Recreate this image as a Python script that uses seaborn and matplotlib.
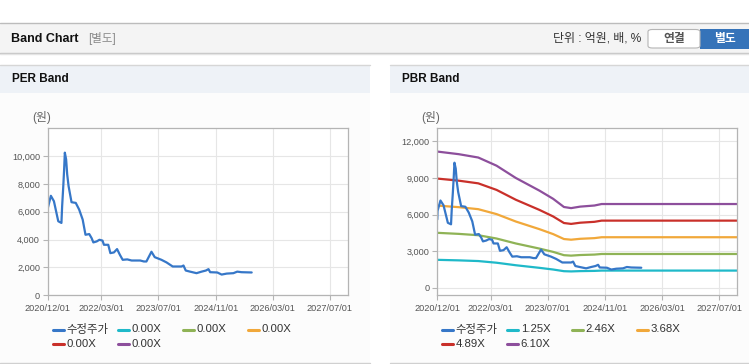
import matplotlib
matplotlib.use('Agg')
import matplotlib.pyplot as plt
import matplotlib.dates as mdates
from matplotlib.patches import Rectangle, FancyBboxPatch
from matplotlib.lines import Line2D
from matplotlib.ticker import FuncFormatter
import pandas as pd
import numpy as np
import seaborn as sns

# adjusted price (수정주가)
price_dates = ['2020-12-01', '2020-12-03', '2020-12-28', '2021-01-23', '2021-03-01', '2021-03-28',
               '2021-04-03', '2021-04-12', '2021-04-20', '2021-04-26', '2021-05-07', '2021-05-16',
               '2021-05-28', '2021-06-22', '2021-07-28', '2021-08-26', '2021-09-25', '2021-10-19',
               '2021-11-20', '2021-12-10', '2021-12-25', '2022-01-22', '2022-02-15', '2022-03-13',
               '2022-03-25', '2022-05-01', '2022-05-19', '2022-06-18', '2022-07-15', '2022-08-08',
               '2022-09-01', '2022-10-10', '2022-11-16', '2023-01-28', '2023-03-01', '2023-03-22',
               '2023-05-04', '2023-06-01', '2023-07-28', '2023-09-10', '2023-11-01', '2024-01-15',
               '2024-02-01', '2024-02-20', '2024-03-28', '2024-05-22', '2024-07-04', '2024-08-10',
               '2024-09-01', '2024-09-15', '2024-11-15', '2024-12-22', '2025-02-03', '2025-04-01',
               '2025-05-04', '2025-06-10', '2025-09-04']
price_values = [5600, 6300, 7150, 6760, 5320, 5200,
                6400, 7720, 9050, 10250, 9770, 8690,
                7840, 6690, 6640, 6160, 5440, 4350,
                4400, 4110, 3800, 3870, 3990, 3930,
                3630, 3630, 3030, 3080, 3320, 2910,
                2550, 2580, 2500, 2500, 2430, 2430,
                3130, 2740, 2550, 2360, 2070, 2070,
                2140, 1780, 1700, 1590, 1700, 1780,
                1880, 1660, 1640, 1490, 1560, 1590,
                1700, 1660, 1640]

# PBR band: BPS, times the band multiples
bps_dates = ['2020-12-01', '2021-06-01', '2021-11-15', '2022-04-20', '2022-10-01', '2023-04-20',
             '2023-08-15', '2023-11-15', '2024-01-15', '2024-04-01', '2024-08-01', '2024-10-01',
             '2027-12-01']
bps_values = [1830, 1795, 1750, 1640, 1475, 1305, 1195, 1085, 1070, 1090, 1105, 1125, 1125]
pbr_multiples = [1.25, 2.46, 3.68, 4.89, 6.10]
pbr_labels = ['1.25X', '2.46X', '3.68X', '4.89X', '6.10X']
per_labels = ['0.00X', '0.00X', '0.00X', '0.00X', '0.00X']

price_label = '수정주가'
band_colors = ['#1fb9c9', '#8fb356', '#f1a83a', '#c9302a', '#8d4f9c']
price_color = '#3677c8'

x_ticks = ['2020/12/01', '2022/03/01', '2023/07/01', '2024/11/01', '2026/03/01', '2027/07/01']
x_range = ['2020-12-01', '2027-12-01']

sns.set_theme(style='white')
plt.rcParams['font.family'] = ['Liberation Sans', 'Noto Sans CJK KR', 'DejaVu Sans']

W, H = 749, 364
fig = plt.figure(figsize=(W / 100, H / 100), dpi=100)
fig.patch.set_facecolor('white')


def fx(x):
    return x / W


def fy(y):
    return 1 - y / H


def rect(x0, y0, x1, y1, color, **kw):
    fig.add_artist(Rectangle((fx(x0), fy(y1)), fx(x1) - fx(x0), fy(y0) - fy(y1),
                             transform=fig.transFigure, facecolor=color, edgecolor='none',
                             zorder=-10, **kw))


def hline(x0, x1, y, color, lw=1.0):
    fig.add_artist(Line2D([fx(x0), fx(x1)], [fy(y), fy(y)], transform=fig.transFigure,
                          color=color, lw=lw, zorder=-5))


# top header bar
rect(0, 22.5, W, 52.5, '#f4f4f4')
hline(0, W, 22.5, '#bcbcbc')
hline(0, W, 52.5, '#c4c4c4')
hline(0, W, 53.5, '#e4e4e4')
fig.text(fx(11), fy(38.5), 'Band Chart', fontsize=9, fontweight='bold', color='#111111',
         va='center', ha='left')
fig.text(fx(88), fy(38.5), '[별도]', fontsize=8.3, color='#8a8a8a', va='center', ha='left')
fig.text(fx(553), fy(38.5), '단위 : 억원, 배, %', fontsize=8.6, color='#333333', va='center', ha='left')
fig.add_artist(FancyBboxPatch((fx(648), fy(48)), fx(700) - fx(648), fy(29.5) - fy(48),
                              boxstyle='round,pad=0,rounding_size=0.006', transform=fig.transFigure,
                              facecolor='white', edgecolor='#b5b5b5', lw=0.8, zorder=-4))
rect(700, 29, W, 48.5, '#3573b9')
fig.text(fx(674), fy(39), '연결', fontsize=8.5, fontweight='bold', color='#555555', va='center', ha='center')
fig.text(fx(724.5), fy(39), '별도', fontsize=8.5, fontweight='bold', color='white', va='center', ha='center')

# panel frames
panels = [(0, 370, 'PER Band'), (390, W, 'PBR Band')]
for x0, x1, title in panels:
    rect(x0, 92.7, x1, 363, '#fcfcfc')
    rect(x0, 64.7, x1, 92.7, '#eef2f7')
    hline(x0, x1, 64.7, '#d6d6d6')
    hline(x0, x1, 363.3, '#d0d0d0')
    fig.text(fx(x0 + 12), fy(79.5), title, fontsize=8.5, fontweight='bold', color='#111111',
             va='center', ha='left')

price_df = pd.DataFrame({'date': pd.to_datetime(price_dates), 'value': price_values})

band_rows = []
for lab, m in zip(pbr_labels, pbr_multiples):
    for d, b in zip(bps_dates, bps_values):
        band_rows.append({'date': pd.to_datetime(d), 'value': b * m, 'band': lab})
band_df = pd.DataFrame(band_rows)

ax_left = [47.7, 437.3]
ax_w, ax_top, ax_bot = 300, 128.3, 295.3

axes = []
for xl in ax_left:
    ax = fig.add_axes([fx(xl), fy(ax_bot), fx(ax_w), fy(ax_top) - fy(ax_bot)])
    ax.set_facecolor('white')
    axes.append(ax)
ax_per, ax_pbr = axes

sns.lineplot(data=band_df, x='date', y='value', hue='band', palette=band_colors,
             ax=ax_pbr, lw=1.6, legend=False)
sns.lineplot(data=price_df, x='date', y='value', ax=ax_pbr, color=price_color, lw=1.6)
sns.lineplot(data=price_df, x='date', y='value', ax=ax_per, color=price_color, lw=1.6)

ax_per.set_ylim(0, 12000)
ax_per.set_yticks([0, 2000, 4000, 6000, 8000, 10000])
ax_pbr.set_ylim(-620, 13070)
ax_pbr.set_yticks([0, 3000, 6000, 9000, 12000])

tick_dates = pd.to_datetime(x_ticks, format='%Y/%m/%d')
for ax in axes:
    ax.set_xlim(pd.to_datetime(x_range[0]), pd.to_datetime(x_range[1]))
    ax.set_xticks(tick_dates)
    ax.xaxis.set_major_formatter(mdates.DateFormatter('%Y/%m/%d'))
    ax.yaxis.set_major_formatter(FuncFormatter(lambda v, p: f'{int(v):,}'))
    ax.set_xlabel('')
    ax.set_ylabel('')
    ax.grid(True, color='#e6e6e6', lw=0.8)
    ax.set_axisbelow(True)
    for s in ax.spines.values():
        s.set_color('#b4b4b4')
        s.set_linewidth(0.9)
    ax.tick_params(axis='both', labelsize=6.6, colors='#555555', length=3.5, width=0.8,
                   pad=2, direction='out', bottom=True, left=True)
    ax.tick_params(axis='x', color='#b4b4b4', pad=3)
    ax.tick_params(axis='y', color='#b4b4b4')

# unit labels
for xl in [32, 421.5]:
    fig.text(fx(xl), fy(118), '(원)', fontsize=8.5, color='#666666', va='center', ha='left')

# legends
for xl, labs in [(ax_left[0], per_labels), (ax_left[1], pbr_labels)]:
    items = [price_label] + labs
    cols = [price_color] + band_colors
    for i, (lab, c) in enumerate(zip(items, cols)):
        row, col = divmod(i, 4)
        lx = xl + 5 + col * 65
        ly = 329.5 + row * 14.5
        fig.add_artist(Line2D([fx(lx), fx(lx + 11)], [fy(ly), fy(ly)], transform=fig.transFigure,
                              color=c, lw=2.2))
        fig.text(fx(lx + 13.5), fy(ly), lab, fontsize=8.2, color='#333333', va='center', ha='left')

fig.savefig('out.png', dpi=100)
